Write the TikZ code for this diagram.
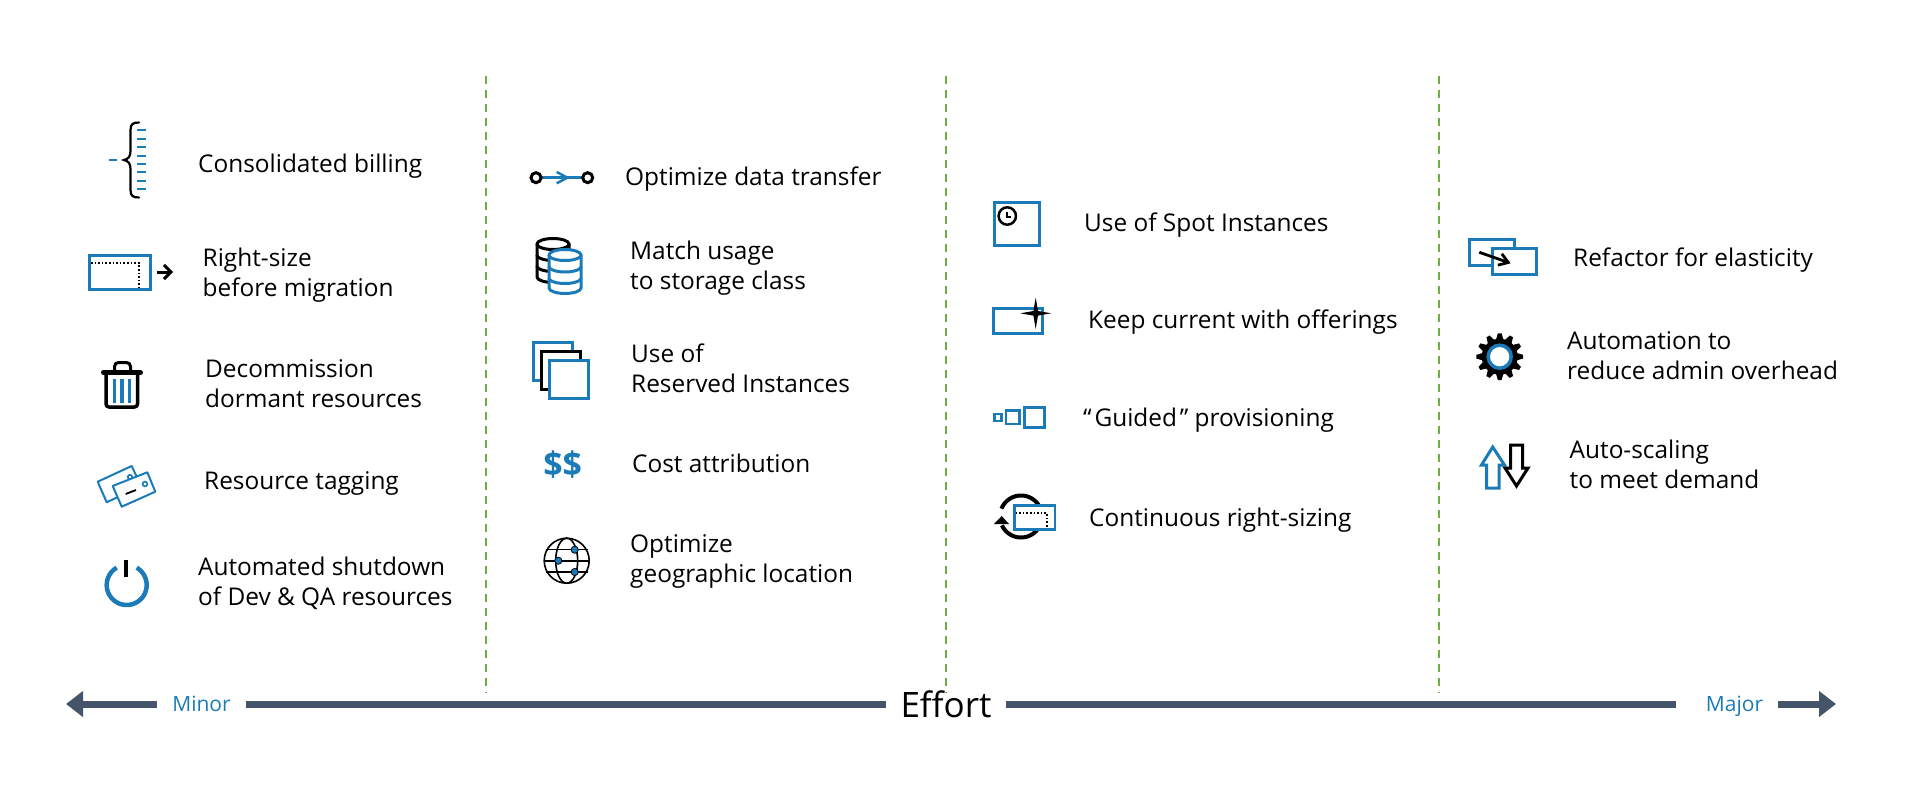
\documentclass[tikz,border=0pt]{standalone}
\usepackage{fontspec}
\setmainfont{Open Sans}
\usetikzlibrary{arrows.meta}
\definecolor{azblue}{HTML}{1B7BB8}
\definecolor{axisc}{HTML}{44546A}
\definecolor{dashg}{HTML}{70AD47}
\newcommand{\lnx}[1]{\rule[-7.5pt]{0pt}{30pt}#1}
\newcommand{\arcp}[6]{plot[domain=#5:#6,samples=40,smooth] ({#1+#2*cos(\x)},{#3-#4*sin(\x)})}
\tikzset{
  lab/.style={anchor=west,align=left,inner sep=0pt,font=\fontsize{24.4}{30}\selectfont,text=black},
  axl/.style={draw=axisc,line width=7pt},
  axtip/.style={axl,-{Triangle[length=17pt,width=25pt]}},
  sep/.style={draw=dashg,line width=2pt,dash pattern=on 8pt off 6pt},
  bl/.style={draw=azblue,line width=3pt},
  bk/.style={draw=black,line width=3pt},
}
\begin{document}
\begin{tikzpicture}[x=1pt,y=-1pt]
\useasboundingbox (0,0) rectangle (1906,789);
% separators
\coordinate (s1a) at (486,76); \coordinate (s1b) at (486,693);
\coordinate (s2a) at (946,76); \coordinate (s2b) at (946,693);
\coordinate (s3a) at (1439,76); \coordinate (s3b) at (1439,693);
\draw[sep] (s1a)--(s1b); \draw[sep] (s2a)--(s2b); \draw[sep] (s3a)--(s3b);
% axis
\coordinate (tipL) at (66,704); \coordinate (tipR) at (1836,704);
\node[inner sep=0pt,minimum width=89pt,text=azblue,font=\fontsize{21}{24}\selectfont] (minor) at (201.5,704) {Minor};
\node[inner sep=0pt,minimum width=120pt,font=\fontsize{35}{40}\selectfont] (effort) at (946,704) {Effort};
\node[inner sep=0pt,minimum width=102pt,text depth=0pt,text=azblue,font=\fontsize{21}{24}\selectfont] (major) at (1734.5,704) {Major};
\coordinate (mL) at (1676,704); \coordinate (mR) at (1778,704);
\draw[axtip] (minor.west)--(tipL);
\draw[axl] (minor.east)--(effort.west);
\draw[axl] (effort.east)--(mL);
\draw[axtip] (mR)--(tipR);
% labels col 1
\node[lab] (t11) at (198,165) {\lnx{Consolidated billing}};
\node[lab] (t12) at (202.5,274) {\lnx{Right-size}\\\lnx{before migration}};
\node[lab] (t13) at (205,384.5) {\lnx{Decommission}\\\lnx{dormant resources}};
\node[lab] (t14) at (204,482) {\lnx{Resource tagging}};
\node[lab] (t15) at (198,583) {\lnx{Automated shutdown}\\\lnx{of Dev \& QA resources}};
% col 2
\node[lab] (t21) at (625,178) {\lnx{Optimize data transfer}};
\node[lab] (t22) at (630,267) {\lnx{Match usage}\\\lnx{to storage class}};
\node[lab] (t23) at (631,370) {\lnx{Use of}\\\lnx{Reserved Instances}};
\node[lab] (t24) at (632,465) {\lnx{Cost attribution}};
\node[lab] (t25) at (630,560) {\lnx{Optimize}\\\lnx{geographic location}};
% col 3
\node[lab] (t31) at (1084,224) {\lnx{Use of Spot Instances}};
\node[lab] (t32) at (1088,321) {\lnx{Keep current with offerings}};
\node[lab] (t33) at (1083,419) {\lnx{“\kern2.8pt Guided\kern2.8pt” provisioning}};
\node[lab] (t34) at (1089,519) {\lnx{Continuous right-sizing}};
% col 4
\node[lab] (t41) at (1573,259) {\lnx{Refactor for elasticity}};
\node[lab] (t42) at (1567,357) {\lnx{Automation to}\\\lnx{reduce admin overhead}};
\node[lab] (t43) at (1569.5,466) {\lnx{Auto-scaling}\\\lnx{to meet demand}};
% --- icons ---
% brace
\draw[black,line width=2.2pt,line cap=round] (139,122.5) .. controls (133,122.5) and (130.5,124) .. (130.5,130) -- (130.5,151) .. controls (130.5,157) and (128,159) .. (124,160) .. controls (128,161) and (130.5,163) .. (130.5,169) -- (130.5,190) .. controls (130.5,196) and (133,197.5) .. (139,197.5);
\foreach \yy in {130.3,138.7,147.3,156,164.3,172.3,180.7,189.3} \draw[azblue,line width=2pt] (137,\yy)--(146,\yy);
\draw[azblue,line width=2pt] (109,160)--(117,160);
% right-size
\draw[bl] (89,255.5) rectangle (150,289.5);
\draw[black,line width=1.6pt,dotted] (91,263)--(139,263)--(139,288);
\draw[black,line width=3pt,-{Straight Barb[length=7pt,width=14pt]}] (157,272)--(173,272);
% trash
\draw[black,line width=3.5pt,line join=round,rounded corners=3pt,fill=white] (106,373)--(106,407)--(137.5,407)--(137.5,373);
\draw[black,line width=5pt,line cap=round] (103.5,372.5)--(140.5,372.5);
\draw[black,line width=3pt,rounded corners=4pt] (114.5,371)--(114.5,362.5)--(130.5,362.5)--(130.5,371);
\foreach \xx in {114.5,122,129.5} \draw[azblue,line width=3.5pt] (\xx,379)--(\xx,403);
% tags
\draw[azblue,line width=2pt,fill=white,line join=round] (97.7,481.7)--(131.7,466)--(141,486)--(106.7,502.3)--cycle;
\draw[azblue,line width=1.6pt] (130,477) circle[radius=2.2pt];
\draw[azblue,line width=2pt,fill=white,line join=round] (112.7,486)--(147.3,472.3)--(155.3,491.7)--(121.7,506.7)--cycle;
\draw[azblue,line width=1.6pt] (145,484) circle[radius=2.4pt];
\draw[black,line width=1.8pt] (125.7,494)--(136,490);
% power
\draw[azblue,line width=4.5pt] \arcp{126.7}{20}{585}{20}{60}{-240};
\draw[black,line width=4.5pt] (126,560)--(126,577);
% link
\draw[azblue,line width=2.5pt] (536,177.7)--(587.7,177.7);
\draw[azblue,line width=2.5pt] (556.7,172)--(567.3,177.7)--(556.7,183.3);
\draw[bk,fill=white] (536,177.7) circle[radius=5pt];
\draw[bk,fill=white] (587.7,177.7) circle[radius=5pt];
% databases
\draw[bk,fill=white] (537,244) -- (537,277) .. controls (537,280) and (544.2,282.5) .. (553,282.5) .. controls (561.8,282.5) and (569,280) .. (569,277) -- (569,244) .. controls (569,241) and (561.8,238.5) .. (553,238.5) .. controls (544.2,238.5) and (537,241) .. cycle;
\draw[bk] (537,244) \arcp{553}{16}{244}{5.5}{180}{360};
\draw[bk] (537,255) \arcp{553}{16}{255}{5.5}{180}{360};
\draw[bk] (537,266) \arcp{553}{16}{266}{5.5}{180}{360};
\draw[bl,fill=white] (549,255) -- (549,288) .. controls (549,291) and (556.2,293.5) .. (565,293.5) .. controls (573.8,293.5) and (581,291) .. (581,288) -- (581,255) .. controls (581,252) and (573.8,249.5) .. (565,249.5) .. controls (556.2,249.5) and (549,252) .. cycle;
\draw[bl] (549,255) \arcp{565}{16}{255}{5.5}{180}{360};
\draw[bl] (549,266.5) \arcp{565}{16}{266.5}{5.5}{180}{360};
\draw[bl] (549,278) \arcp{565}{16}{278}{5.5}{180}{360};
% squares
\draw[bl,fill=white] (533,342) rectangle (572.5,380.5);
\draw[bk,fill=white] (541.5,351.5) rectangle (580.5,389.5);
\draw[bl,fill=white] (549,360.5) rectangle (588,398);
% dollars
\node[inner sep=0pt,text=azblue,font=\fontsize{34}{38}\bfseries\selectfont] (dd) at (562.7,465) {\$\$};
% globe
\draw[black,line width=1.6pt] (566.7,560.7) circle[radius=22.5pt];
\draw[black,line width=1.6pt] (566.7,560.7) ellipse[x radius=11pt,y radius=22.5pt];
\draw[black,line width=1.6pt] (545.5,549.5)--(588,549.5);
\draw[black,line width=1.6pt] (544.2,560.7)--(589.2,560.7);
\draw[black,line width=1.6pt] (545.5,572)--(588,572);
\foreach \px/\py in {574.7/549.7,558.3/560.7,574.7/572} \draw[black,line width=0.8pt,fill=azblue] (\px,\py) circle[radius=3.6pt];
% spot
\draw[bl] (994,202.5) rectangle (1039.5,245.5);
\draw[black,line width=2.5pt] (1007.3,216) circle[radius=8.7pt];
\draw[black,line width=1.8pt] (1006.7,212)--(1006.7,217.3)--(1010.8,217.3);
% keep current
\draw[bl] (993.8,308.8) rectangle (1042,333.8);
\fill[black] (1035.7,297.6)--(1038,311)--(1051.2,313.3)--(1038,315.6)--(1035.7,329)--(1033.4,315.6)--(1020.2,313.3)--(1033.4,311)--cycle;
% guided
\draw[azblue,line width=2.5pt] (994.3,414) rectangle (1001.5,420.8);
\draw[azblue,line width=2.5pt] (1006,410.6) rectangle (1019.5,424);
\draw[bl] (1024.2,407.5) rectangle (1044.5,427.5);
% continuous
\draw[black,line width=4pt] \arcp{1021}{21}{516.5}{21}{158}{20};
\draw[black,line width=4pt] \arcp{1021}{21}{516.5}{21}{-30}{-155};
\fill[black] (1001.7,516)--(994,524)--(1009,524)--cycle;
\draw[azblue,line width=2.5pt,fill=white] (1014.5,505.5) rectangle (1055,529.5);
\draw[black,line width=1.6pt,dotted] (1015.5,513)--(1046.7,513)--(1046.7,528);
% refactor
\draw[bl,fill=white] (1469.8,239.2) rectangle (1514.2,265.5);
\draw[bl,fill=white] (1492.2,248.2) rectangle (1536.2,274.5);
\draw[black,line width=2.8pt,-{Straight Barb[length=9pt,width=12pt]}] (1479.3,252.3)--(1510.7,263.3);
% gear
\begin{scope}[shift={(1499.7,356.7)}]
\fill[black] (0,0) circle[radius=18pt];
\foreach \a in {0,30,...,330}
  \fill[black] ({17*cos(\a-13)},{17*sin(\a-13)})--({23.5*cos(\a-4.5)},{23.5*sin(\a-4.5)})--({23.5*cos(\a+4.5)},{23.5*sin(\a+4.5)})--({17*cos(\a+13)},{17*sin(\a+13)})--cycle;
\draw[azblue,line width=3.5pt,fill=white] (0,0) circle[radius=11.5pt];
\end{scope}
% up / down
\draw[bl,line join=miter] (1486.5,488)--(1486.5,465)--(1481.5,465)--(1492.7,447)--(1504.5,465)--(1499,465)--(1499,488)--cycle;
\draw[bk,line join=miter] (1510.5,445)--(1522.5,445)--(1522.5,468)--(1528,468)--(1516.5,486)--(1505,468)--(1510.5,468)--cycle;
\end{tikzpicture}
\end{document}
